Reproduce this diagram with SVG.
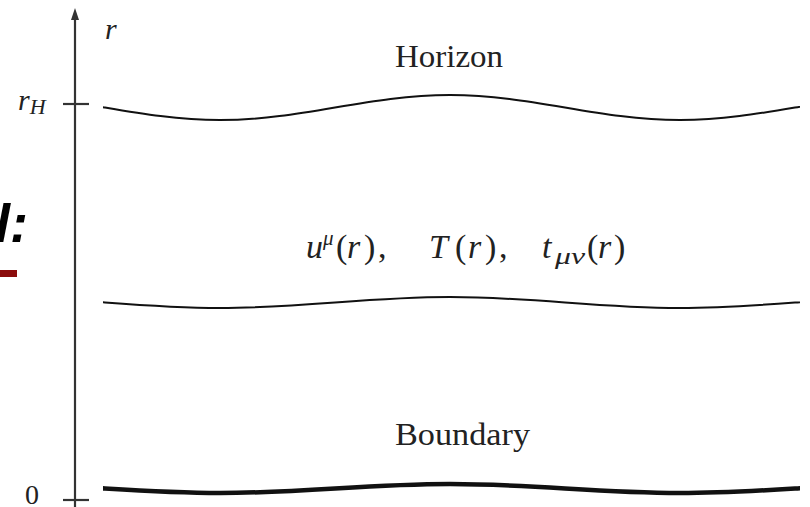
<svg xmlns="http://www.w3.org/2000/svg" width="810" height="507" viewBox="0 0 810 507">
<defs>
<style>
.serif{font-family:"Liberation Serif","DejaVu Serif",serif;fill:#222}
.math{font-family:"Liberation Serif","DejaVu Serif",serif;font-style:italic;fill:#222}
.up{font-style:normal}
.curve{fill:none;stroke:#111;stroke-width:2}
.axis{stroke:#333;stroke-width:2.2;fill:none}
</style>
<clipPath id="clip"><rect x="103" y="0" width="697" height="507"/></clipPath>
</defs>
<rect width="810" height="507" fill="#fff"/>
<g id="side">
<text x="28" y="242" text-anchor="end" font-family="Liberation Sans,Arial,sans-serif" font-weight="bold" font-style="italic" font-size="54" fill="#000">l:</text>
<rect x="0" y="270" width="17" height="7" fill="#8b0c0c"/>
</g>
<g id="axis">
<line class="axis" x1="75" y1="507" x2="75" y2="16"/>
<path d="M71,20 L75,8 L79,20 Z" fill="#333"/>
<line class="axis" x1="63" y1="104" x2="89" y2="104"/>
<line class="axis" x1="63" y1="500" x2="89" y2="500"/>
<text class="math" x="105" y="39" font-size="30">r</text>
<text class="math" x="18" y="110" font-size="30">r<tspan font-size="22" dy="4">H</tspan></text>
<text class="serif" x="25" y="504" font-size="28">0</text>
</g>
<g id="connectors" clip-path="url(#clip)">
<path id="horizon-curve" class="curve" d="M -10 95 C 73.6 95 136.4 120 220 120 S 366.4 95 450 95 S 596.4 120 680 120 S 826.4 95 910 95"/>
<path id="middle-curve" class="curve" d="M -10 297 C 73.6 297 136.4 308 220 308 S 366.4 297 450 297 S 596.4 308 680 308 S 826.4 297 910 297"/>
<path id="boundary-curve" class="curve" style="stroke-width:4.5" d="M -10 484 C 73.6 484 136.4 493 220 493 S 366.4 484 450 484 S 596.4 493 680 493 S 826.4 484 910 484"/>
</g>
<g id="horizon">
<text class="serif" x="395" y="67" font-size="32" textLength="108" lengthAdjust="spacingAndGlyphs">Horizon</text>
</g>
<g id="fields">
<text class="math" y="258" font-size="34"><tspan x="306">u</tspan><tspan font-size="21" dy="-13" x="323">μ</tspan><tspan class="up" dy="13" x="336">(</tspan><tspan x="347">r</tspan><tspan class="up" x="364">)</tspan><tspan class="up" x="378">,</tspan></text>
<text class="math" y="258" font-size="34"><tspan x="429">T</tspan><tspan class="up" x="455">(</tspan><tspan x="468">r</tspan><tspan class="up" x="485">)</tspan><tspan class="up" x="499">,</tspan></text>
<text class="math" y="258" font-size="34"><tspan x="542">t</tspan><tspan font-size="24" dy="6" x="555" textLength="30" lengthAdjust="spacingAndGlyphs">μν</tspan><tspan class="up" dy="-6" x="587">(</tspan><tspan x="598">r</tspan><tspan class="up" x="614">)</tspan></text>
</g>
<g id="boundary">
<text class="serif" x="395" y="445" font-size="32" textLength="135" lengthAdjust="spacingAndGlyphs">Boundary</text>
</g>
</svg>
